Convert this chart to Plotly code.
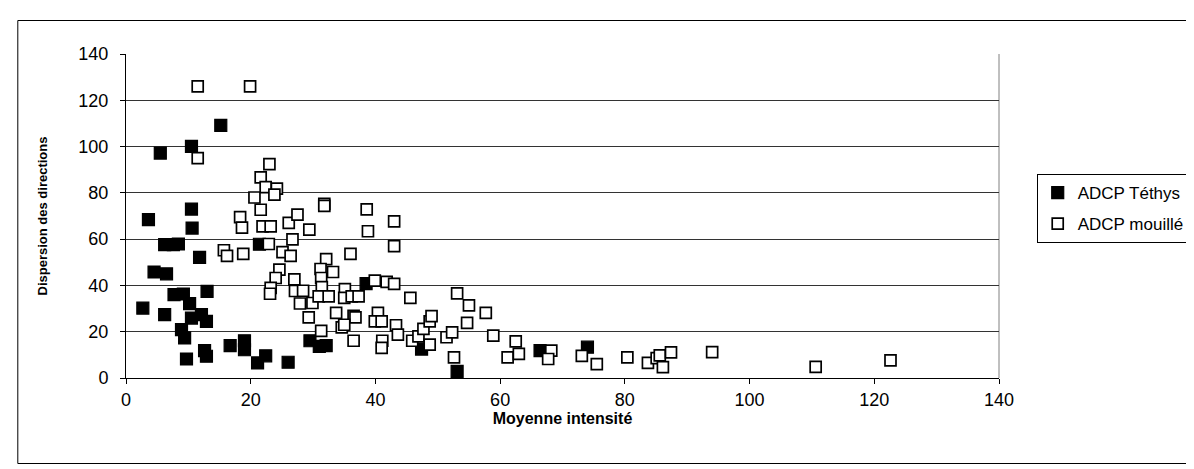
import plotly.graph_objects as go

# ADCP Téthys (filled squares)
tethys_x = [2.7, 3.6, 4.5, 5.5, 6.2, 6.2, 6.5, 7.6, 7.7, 8.4, 8.9, 9.2, 9.4, 9.7, 10.2,
            10.5, 10.5, 10.6, 10.5, 11.8, 12.1, 12.6, 12.9, 12.9, 13.0, 15.2, 16.7, 19.0,
            19.0, 21.1, 21.4, 22.4, 26.0, 29.5, 31.0, 32.1, 38.5, 47.4, 53.1, 66.4, 74.0]
tethys_y = [30.2, 68.4, 45.8, 97.2, 57.6, 27.4, 45.0, 57.6, 36.0, 57.9, 20.9, 36.3, 17.3, 8.2, 32.1,
            100.1, 73.0, 64.8, 25.9, 52.1, 27.4, 11.8, 24.5, 9.4, 37.4, 109.2, 14.0, 16.1,
            12.2, 6.5, 57.8, 9.6, 6.8, 16.1, 13.7, 14.0, 40.8, 12.5, 2.9, 11.8, 13.3]

# ADCP mouillé (open squares)
mouille_x = [11.5, 19.9, 11.5, 23.0, 21.6, 22.4, 24.2, 20.6, 23.8, 21.6, 18.3, 18.6, 21.9, 23.2,
             26.1, 27.5, 29.4, 26.7, 22.9, 15.7, 16.2, 18.8, 25.1, 26.4, 24.6, 24.0, 23.2, 23.1,
             27.0, 27.1, 27.9, 31.8, 31.8, 38.6, 43.0, 38.8, 43.0, 32.1, 36.0, 31.2, 33.2, 31.3,
             31.4, 28.4, 29.9, 29.3, 30.9, 32.5, 35.1, 35.0, 36.2, 37.3, 39.9, 41.8, 43.0, 45.6,
             33.7, 36.5, 36.8, 40.4, 39.9, 41.0, 34.6, 35.0, 31.3, 36.5, 41.1, 41.0, 43.3, 43.6,
             45.9, 46.9, 48.7, 47.7, 48.7, 49.0, 51.4, 52.3, 53.1, 55.0, 54.7, 52.6, 57.7, 58.9,
             62.5, 61.2, 63.0, 68.2, 67.7, 73.1, 75.5, 80.4, 83.7, 85.1, 85.6, 86.1, 87.4, 94.0,
             110.6, 122.6]
mouille_y = [126.0, 126.0, 95.0, 92.4, 86.7, 82.5, 81.8, 78.0, 79.2, 72.7, 69.5, 65.0, 65.5, 65.5,
             67.0, 70.6, 64.1, 59.9, 57.9, 55.2, 52.8, 53.6, 54.4, 52.8, 46.8, 43.2, 38.9, 36.4,
             42.6, 37.6, 32.2, 75.2, 74.4, 72.9, 67.7, 63.4, 57.0, 51.4, 53.6, 47.1, 45.8, 43.2,
             39.3, 37.7, 32.4, 26.2, 35.3, 35.3, 38.4, 34.6, 35.3, 35.3, 42.1, 41.5, 40.7, 34.6,
             28.1, 26.9, 26.2, 28.1, 24.5, 24.5, 21.9, 23.0, 20.4, 16.1, 16.1, 13.0, 22.8, 18.7,
             16.1, 18.0, 14.4, 21.2, 24.5, 26.7, 17.6, 19.7, 36.6, 31.4, 23.8, 8.9, 28.1, 18.3,
             15.8, 8.9, 10.4, 11.8, 8.2, 9.6, 6.0, 8.9, 6.5, 8.6, 9.8, 4.7, 11.1, 11.2,
             4.8, 7.6]

x_ticks = [0, 20, 40, 60, 80, 100, 120, 140]
y_ticks = [0, 20, 40, 60, 80, 100, 120, 140]

FONT = "Liberation Sans, Arial, sans-serif"

fig = go.Figure()
fig.add_trace(go.Scatter(
    x=tethys_x, y=tethys_y, mode="markers", name="ADCP Téthys",
    legendgroup="a",
    marker=dict(symbol="square", size=12, color="black", line=dict(color="black", width=1.2)),
))
fig.add_trace(go.Scatter(
    x=mouille_x, y=mouille_y, mode="markers", name="ADCP mouillé",
    legendgroup="b",
    marker=dict(symbol="square", size=11, color="white", line=dict(color="black", width=1.7)),
))

W, H = 1194, 469
L, R, T, B = 117.5, 997, 46, 370
pw, ph = R - L, B - T

def px(x):
    return (x - L) / pw

def py(y):
    return (B - y) / ph

fig.update_layout(
    width=W, height=H,
    margin=dict(l=L, r=W - R, t=T, b=H - B),
    paper_bgcolor="white", plot_bgcolor="white",
    font=dict(family=FONT, size=18, color="black"),
    showlegend=True,
    legend=dict(
        x=px(1035), y=py(166), xanchor="left", yanchor="top",
        bordercolor="black", borderwidth=1, bgcolor="white",
        font=dict(family=FONT, size=17, color="black"),
        tracegroupgap=6, traceorder="grouped",
        itemwidth=30,
    ),
    xaxis=dict(
        range=[0, 140], tickvals=x_ticks, ticktext=[str(v) for v in x_ticks],
        showgrid=False, zeroline=False,
        showline=True, linecolor="black", linewidth=1,
        ticks="outside", ticklen=5, tickcolor="black",
        tickfont=dict(family=FONT, size=18),
        title=dict(text="<b>Moyenne intensité</b>", font=dict(family=FONT, size=16), standoff=0),
    ),
    yaxis=dict(
        range=[0, 140], tickvals=y_ticks, ticktext=[str(v) for v in y_ticks],
        showgrid=True, gridcolor="#333333", gridwidth=1, zeroline=False,
        showline=True, linecolor="black", linewidth=1,
        ticks="outside", ticklen=5, tickcolor="black",
        tickfont=dict(family=FONT, size=18),
        ticklabelstandoff=8,
        title=dict(text="<b>Dispersion des directions</b>", font=dict(family=FONT, size=13), standoff=27),
    ),
    shapes=[
        dict(type="line", xref="paper", yref="paper", x0=1, x1=1, y0=0, y1=1,
             line=dict(color="#808080", width=1), layer="below"),
        dict(type="rect", xref="paper", yref="paper",
             x0=px(8.5), x1=px(1192.5), y0=py(455.5), y1=py(12.5),
             line=dict(color="black", width=1), fillcolor="rgba(0,0,0,0)", layer="below"),
    ],
)

fig.write_html("out.html")
